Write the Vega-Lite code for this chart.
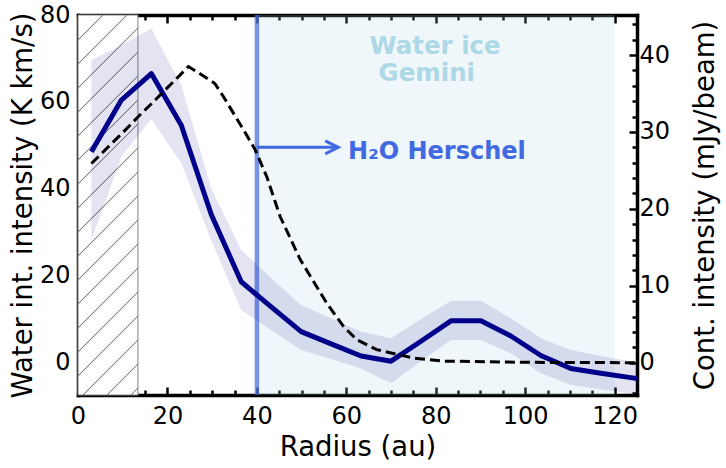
{
  "$schema": "https://vega.github.io/schema/vega-lite/v6.json",
  "width": 559,
  "height": 380,
  "autosize": "none",
  "padding": {"left": 78, "top": 15, "right": 89, "bottom": 73},
  "background": "white",
  "config": {
    "view": {"stroke": null},
    "font": "DejaVu Sans",
    "axis": {
      "grid": false,
      "domainColor": "black",
      "domainWidth": 3.5,
      "domainCap": "square",
      "tickColor": "black",
      "tickWidth": 2.5,
      "labelColor": "black",
      "labelFont": "DejaVu Sans",
      "labelFontSize": 24,
      "titleFont": "DejaVu Sans",
      "titleFontSize": 27.5,
      "titleFontWeight": "normal",
      "titleColor": "black",
      "labelOverlap": false,
      "labelFlush": false,
      "zindex": 1
    }
  },
  "datasets": {
    "water": [
      {"r": 3.0, "w": 48.5, "lo": 28.1, "hi": 69.6},
      {"r": 9.7, "w": 60.4, "lo": 47.3, "hi": 73.0},
      {"r": 16.4, "w": 66.5, "lo": 56.0, "hi": 76.9},
      {"r": 23.1, "w": 54.6, "lo": 45.8, "hi": 63.8},
      {"r": 29.8, "w": 34.0, "lo": 28.0, "hi": 40.0},
      {"r": 36.5, "w": 18.5, "lo": 12.0, "hi": 25.8},
      {"r": 43.2, "w": 12.7, "lo": 7.4, "hi": 19.4},
      {"r": 49.9, "w": 7.0, "lo": 2.8, "hi": 13.1},
      {"r": 56.6, "w": 4.2, "lo": 0.7, "hi": 10.1},
      {"r": 63.3, "w": 1.4, "lo": -1.5, "hi": 7.0},
      {"r": 70.0, "w": 0.2, "lo": -4.9, "hi": 5.5},
      {"r": 76.7, "w": 4.8, "lo": 0.2, "hi": 9.9},
      {"r": 83.4, "w": 9.5, "lo": 5.1, "hi": 14.1},
      {"r": 90.1, "w": 9.5, "lo": 5.1, "hi": 14.1},
      {"r": 96.8, "w": 6.0, "lo": 2.0, "hi": 10.1},
      {"r": 103.5, "w": 1.5, "lo": -2.6, "hi": 5.5},
      {"r": 110.2, "w": -1.5, "lo": -5.3, "hi": 2.8},
      {"r": 116.9, "w": -2.6, "lo": -6.3, "hi": 1.4},
      {"r": 123.6, "w": -3.6, "lo": -7.3, "hi": 0.2},
      {"r": 125.0, "w": -3.8, "lo": -7.5, "hi": 0.0}
    ],
    "cont": [
      {"r": 3.0, "c": 25.9},
      {"r": 10.0, "c": 29.9},
      {"r": 13.5, "c": 32.0},
      {"r": 17.0, "c": 34.0},
      {"r": 24.7, "c": 38.5},
      {"r": 27.2, "c": 37.6},
      {"r": 30.6, "c": 36.3},
      {"r": 32.5, "c": 34.6},
      {"r": 37.0, "c": 30.3},
      {"r": 39.6, "c": 27.7},
      {"r": 42.2, "c": 24.2},
      {"r": 45.2, "c": 19.0},
      {"r": 49.7, "c": 13.4},
      {"r": 55.6, "c": 7.75},
      {"r": 59.4, "c": 4.7},
      {"r": 62.3, "c": 3.0},
      {"r": 66.8, "c": 1.7},
      {"r": 70.5, "c": 1.2},
      {"r": 75.0, "c": 0.6},
      {"r": 82.0, "c": 0.2},
      {"r": 100.0, "c": 0.05},
      {"r": 125.0, "c": 0.0}
    ],
    "ice": [{"a": 40, "b": 120}],
    "hatch": [{"a": 0, "b": 13.4}],
    "herschel": [{"r": 40}],
    "arrow": [{"r": 40, "r2": 58.2, "w": 49.5}],
    "labels": [
      {"r": 65.2, "w": 71.1, "text": "Water ice", "kind": "ice"},
      {"r": 67.2, "w": 64.8, "text": "Gemini", "kind": "ice"},
      {"r": 60.4, "w": 46.9, "text": "H₂O Herschel", "kind": "herschel"}
    ]
  },
  "layer": [
    {
      "data": {"name": "ice"},
      "mark": {"type": "rect", "fill": "#add8e6", "opacity": 0.2},
      "encoding": {
        "x": {
          "field": "a", "type": "quantitative",
          "scale": {"domain": [0, 125], "nice": false, "zero": false},
          "axis": {
            "orient": "top",
            "values": [0,5,10,15,20,25,30,35,40,45,50,55,60,65,70,75,80,85,90,95,100,105,110,115,120,125],
            "labels": false,
            "title": null,
            "tickSize": {"condition": {"test": "datum.value % 20 === 0", "value": -8}, "value": -5}
          }
        },
        "x2": {"field": "b"}
      }
    },
    {
      "data": {"name": "hatch"},
      "mark": {
        "type": "rect",
        "stroke": "#808080",
        "strokeWidth": 1,
        "fill": {
          "gradient": "linear",
          "x1": 0, "y1": 0, "x2": 0.17838, "y2": 1.12973,
          "stops": [
            {"offset": 0, "color": "#ffffff"},
            {"offset": 0.05432, "color": "#ffffff"}, {"offset": 0.05682, "color": "#707070"}, {"offset": 0.05932, "color": "#ffffff"},
            {"offset": 0.10886, "color": "#ffffff"}, {"offset": 0.11136, "color": "#707070"}, {"offset": 0.11386, "color": "#ffffff"},
            {"offset": 0.16341, "color": "#ffffff"}, {"offset": 0.16591, "color": "#707070"}, {"offset": 0.16841, "color": "#ffffff"},
            {"offset": 0.21795, "color": "#ffffff"}, {"offset": 0.22045, "color": "#707070"}, {"offset": 0.22295, "color": "#ffffff"},
            {"offset": 0.27250, "color": "#ffffff"}, {"offset": 0.27500, "color": "#707070"}, {"offset": 0.27750, "color": "#ffffff"},
            {"offset": 0.32705, "color": "#ffffff"}, {"offset": 0.32955, "color": "#707070"}, {"offset": 0.33205, "color": "#ffffff"},
            {"offset": 0.38159, "color": "#ffffff"}, {"offset": 0.38409, "color": "#707070"}, {"offset": 0.38659, "color": "#ffffff"},
            {"offset": 0.43614, "color": "#ffffff"}, {"offset": 0.43864, "color": "#707070"}, {"offset": 0.44114, "color": "#ffffff"},
            {"offset": 0.49068, "color": "#ffffff"}, {"offset": 0.49318, "color": "#707070"}, {"offset": 0.49568, "color": "#ffffff"},
            {"offset": 0.54523, "color": "#ffffff"}, {"offset": 0.54773, "color": "#707070"}, {"offset": 0.55023, "color": "#ffffff"},
            {"offset": 0.59977, "color": "#ffffff"}, {"offset": 0.60227, "color": "#707070"}, {"offset": 0.60477, "color": "#ffffff"},
            {"offset": 0.65432, "color": "#ffffff"}, {"offset": 0.65682, "color": "#707070"}, {"offset": 0.65932, "color": "#ffffff"},
            {"offset": 0.70886, "color": "#ffffff"}, {"offset": 0.71136, "color": "#707070"}, {"offset": 0.71386, "color": "#ffffff"},
            {"offset": 0.76341, "color": "#ffffff"}, {"offset": 0.76591, "color": "#707070"}, {"offset": 0.76841, "color": "#ffffff"},
            {"offset": 0.81795, "color": "#ffffff"}, {"offset": 0.82045, "color": "#707070"}, {"offset": 0.82295, "color": "#ffffff"},
            {"offset": 0.87250, "color": "#ffffff"}, {"offset": 0.87500, "color": "#707070"}, {"offset": 0.87750, "color": "#ffffff"},
            {"offset": 0.92705, "color": "#ffffff"}, {"offset": 0.92955, "color": "#707070"}, {"offset": 0.93205, "color": "#ffffff"},
            {"offset": 0.98159, "color": "#ffffff"}, {"offset": 0.98409, "color": "#707070"}, {"offset": 0.98659, "color": "#ffffff"},
            {"offset": 1, "color": "#ffffff"}
          ]
        }
      },
      "encoding": {
        "x": {"field": "a", "type": "quantitative", "scale": {"domain": [0, 125], "nice": false, "zero": false}, "axis": null},
        "x2": {"field": "b"}
      }
    },
    {
      "data": {"name": "herschel"},
      "mark": {"type": "rule", "color": "#4169e1", "opacity": 0.7, "strokeWidth": 4.5},
      "encoding": {
        "x": {"field": "r", "type": "quantitative", "scale": {"domain": [0, 125], "nice": false, "zero": false}, "axis": null}
      }
    },
    {
      "data": {"name": "water"},
      "mark": {"type": "area", "color": "#00008b", "opacity": 0.11, "clip": true},
      "encoding": {
        "x": {
          "field": "r", "type": "quantitative",
          "scale": {"domain": [0, 125], "nice": false, "zero": false},
          "axis": {
            "orient": "bottom",
            "values": [0,5,10,15,20,25,30,35,40,45,50,55,60,65,70,75,80,85,90,95,100,105,110,115,120,125],
            "labelExpr": "datum.value % 20 === 0 ? datum.label : ''",
            "tickSize": {"condition": {"test": "datum.value % 20 === 0", "value": -8}, "value": -5},
            "labelPadding": 17,
            "title": "Radius (au)",
            "titleY": 60,
            "titleBaseline": "alphabetic"
          }
        },
        "y": {
          "field": "hi", "type": "quantitative",
          "scale": {"domain": [-7.6, 80], "nice": false, "zero": false},
          "axis": {
            "orient": "left",
            "values": [-5,0,5,10,15,20,25,30,35,40,45,50,55,60,65,70,75,80],
            "labelExpr": "datum.value % 20 === 0 ? datum.label : ''",
            "tickSize": {"condition": {"test": "datum.value % 20 === 0", "value": -8}, "value": -5},
            "labelPadding": 16,
            "title": "Water int. intensity (K km/s)",
            "titleAngle": -90,
            "titleX": -55,
            "titleY": 190,
            "titleAlign": "center",
            "titleBaseline": "middle"
          }
        },
        "y2": {"field": "lo"}
      }
    },
    {
      "data": {"name": "water"},
      "mark": {"type": "line", "color": "#00008b", "strokeWidth": 5, "strokeJoin": "round", "clip": true},
      "encoding": {
        "x": {"field": "r", "type": "quantitative", "scale": {"domain": [0, 125], "nice": false, "zero": false}, "axis": null},
        "y": {"field": "w", "type": "quantitative", "scale": {"domain": [-7.6, 80], "nice": false, "zero": false}, "axis": null}
      }
    },
    {
      "data": {"name": "arrow"},
      "mark": {"type": "rule", "color": "#4169e1", "strokeWidth": 3},
      "encoding": {
        "x": {"field": "r", "type": "quantitative", "scale": {"domain": [0, 125], "nice": false, "zero": false}, "axis": null},
        "x2": {"field": "r2"},
        "y": {"field": "w", "type": "quantitative", "scale": {"domain": [-7.6, 80], "nice": false, "zero": false}, "axis": null}
      }
    },
    {
      "data": {"name": "arrow"},
      "mark": {"type": "point", "shape": "M-1,-0.5L0,0L-1,0.5", "filled": false, "stroke": "#4169e1", "strokeWidth": 3, "size": 676, "opacity": 1, "strokeJoin": "miter"},
      "encoding": {
        "x": {"field": "r2", "type": "quantitative", "scale": {"domain": [0, 125], "nice": false, "zero": false}, "axis": null},
        "y": {"field": "w", "type": "quantitative", "scale": {"domain": [-7.6, 80], "nice": false, "zero": false}, "axis": null}
      }
    },
    {
      "data": {"name": "labels"},
      "transform": [{"filter": "datum.kind === 'ice'"}],
      "mark": {"type": "text", "align": "left", "baseline": "alphabetic", "fontSize": 24.5, "fontWeight": "bold", "font": "DejaVu Sans", "color": "#add8e6"},
      "encoding": {
        "x": {"field": "r", "type": "quantitative", "scale": {"domain": [0, 125], "nice": false, "zero": false}, "axis": null},
        "y": {"field": "w", "type": "quantitative", "scale": {"domain": [-7.6, 80], "nice": false, "zero": false}, "axis": null},
        "text": {"field": "text"}
      }
    },
    {
      "data": {"name": "labels"},
      "transform": [{"filter": "datum.kind === 'herschel'"}],
      "mark": {"type": "text", "align": "left", "baseline": "alphabetic", "fontSize": 24, "fontWeight": "bold", "font": "DejaVu Sans", "color": "#4169e1"},
      "encoding": {
        "x": {"field": "r", "type": "quantitative", "scale": {"domain": [0, 125], "nice": false, "zero": false}, "axis": null},
        "y": {"field": "w", "type": "quantitative", "scale": {"domain": [-7.6, 80], "nice": false, "zero": false}, "axis": null},
        "text": {"field": "text"}
      }
    },
    {
      "data": {"name": "cont"},
      "mark": {"type": "line", "color": "black", "strokeWidth": 3, "strokeDash": [10, 5], "clip": true},
      "encoding": {
        "x": {"field": "r", "type": "quantitative", "scale": {"domain": [0, 125], "nice": false, "zero": false}, "axis": null},
        "y": {
          "field": "c", "type": "quantitative",
          "scale": {"domain": [-4.2, 45.2], "nice": false, "zero": false},
          "axis": {
            "orient": "right",
            "values": [-4,-2,0,2,4,6,8,10,12,14,16,18,20,22,24,26,28,30,32,34,36,38,40,42,44],
            "labelExpr": "datum.value % 10 === 0 ? datum.label : ''",
            "tickSize": {"condition": {"test": "datum.value % 10 === 0", "value": -8}, "value": -5},
            "labelPadding": 10,
            "title": "Cont. intensity (mJy/beam)",
            "titleAngle": -90,
            "titleX": 68,
            "titleY": 190,
            "titleAlign": "center",
            "titleBaseline": "middle"
          }
        }
      }
    }
  ],
  "resolve": {"scale": {"y": "independent"}, "axis": {"x": "independent", "y": "independent"}}
}
